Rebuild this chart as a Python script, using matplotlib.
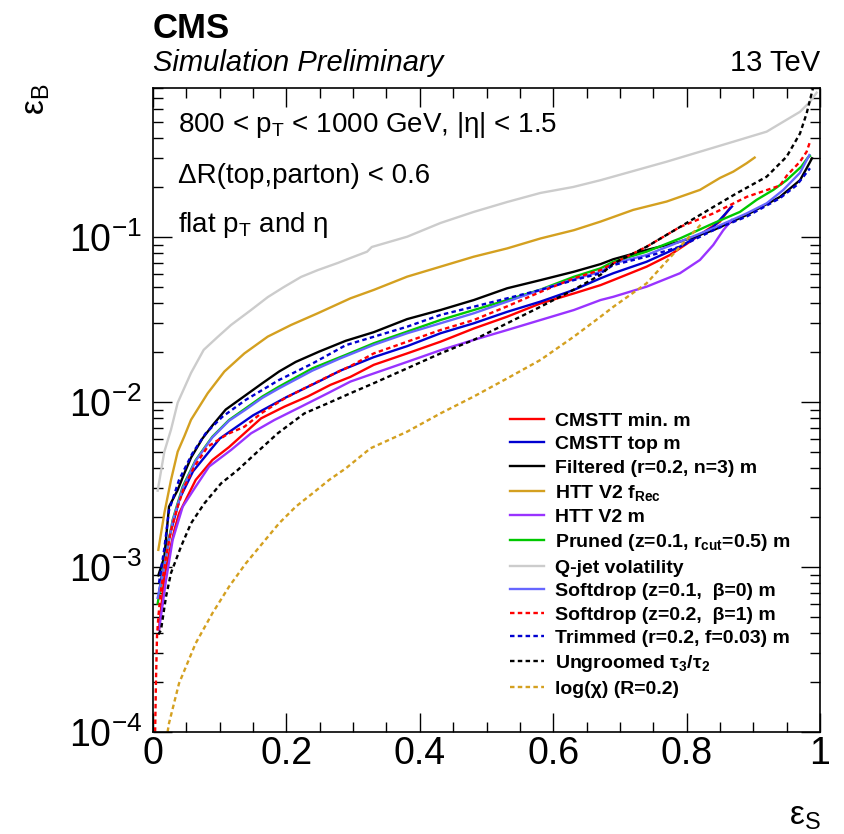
import matplotlib
matplotlib.use("Agg")
import matplotlib.pyplot as plt
from matplotlib.ticker import FixedLocator, FixedFormatter, LogLocator, NullFormatter, MultipleLocator

plt.rcParams["font.family"] = ["Liberation Sans", "DejaVu Sans"]
plt.rcParams["mathtext.default"] = "regular"

# ---- data (signal eff. vs background eff.) ----
cmstt_min_x = [0.009, 0.017, 0.024, 0.032, 0.039, 0.064, 0.089, 0.114, 0.137, 0.162, 0.197, 0.232, 0.266,
               0.296, 0.331, 0.381, 0.431, 0.481, 0.531, 0.581, 0.631, 0.671, 0.690, 0.740, 0.775, 0.805,
               0.830, 0.850, 0.865]
cmstt_min_y = [4.2e-4, 8.7e-4, 1.2e-3, 1.67e-3, 2.11e-3, 3.37e-3, 4.45e-3, 5.33e-3, 6.46e-3, 7.96e-3, 9.37e-3,
               0.0108, 0.0127, 0.0142, 0.0168, 0.0197, 0.0232, 0.0279, 0.0329, 0.0396, 0.0455, 0.0511, 0.0548,
               0.0661, 0.0778, 0.0937, 0.110, 0.124, 0.150]

cmstt_top_x = [0.009, 0.02, 0.04, 0.06, 0.1, 0.15, 0.2, 0.25, 0.281, 0.331, 0.381, 0.431, 0.481, 0.531, 0.581,
               0.631, 0.671, 0.690, 0.740, 0.790, 0.840, 0.868]
cmstt_top_y = [7e-4, 1.3e-3, 2.6e-3, 3.8e-3, 6.0e-3, 8.3e-3, 0.0107, 0.0134, 0.0155, 0.0187, 0.0218, 0.0261,
               0.030, 0.0352, 0.0406, 0.0478, 0.0562, 0.0603, 0.0708, 0.0873, 0.115, 0.153]

filtered_x = [0.008, 0.017, 0.024, 0.037, 0.047, 0.057, 0.074, 0.089, 0.109, 0.139, 0.164, 0.189, 0.214, 0.249,
              0.289, 0.331, 0.381, 0.431, 0.481, 0.531, 0.581, 0.631, 0.671, 0.690, 0.740, 0.790, 0.840, 0.890,
              0.940, 0.970, 0.980, 0.988]
filtered_y = [8.9e-4, 1.15e-3, 2.32e-3, 2.93e-3, 3.7e-3, 4.6e-3, 6.0e-3, 7.2e-3, 9.0e-3, 0.0110, 0.0130, 0.0153,
              0.0175, 0.0202, 0.0235, 0.0265, 0.0318, 0.0361, 0.0415, 0.0489, 0.0548, 0.0616, 0.0685, 0.0733,
              0.0834, 0.0937, 0.110, 0.136, 0.175, 0.221, 0.261, 0.300]

htt_frec_x = [0.008, 0.017, 0.027, 0.037, 0.047, 0.057, 0.082, 0.107, 0.137, 0.172, 0.207, 0.247, 0.296, 0.331,
              0.381, 0.431, 0.481, 0.531, 0.581, 0.631, 0.671, 0.720, 0.770, 0.820, 0.850, 0.870, 0.890, 0.902]
htt_frec_y = [1.27e-3, 2.12e-3, 3.37e-3, 5.0e-3, 6.2e-3, 7.8e-3, 0.0113, 0.0153, 0.0197, 0.0249, 0.0293, 0.0345,
              0.0425, 0.0478, 0.0575, 0.0661, 0.076, 0.0853, 0.098, 0.110, 0.124, 0.146, 0.164, 0.193, 0.228,
              0.249, 0.280, 0.303]

htt_m_x = [0.009, 0.0195, 0.0295, 0.0445, 0.064, 0.084, 0.117, 0.147, 0.182, 0.222, 0.262, 0.296, 0.331, 0.381,
           0.431, 0.481, 0.531, 0.581, 0.631, 0.671, 0.690, 0.740, 0.790, 0.820, 0.840, 0.855, 0.868]
htt_m_y = [4.15e-4, 8.3e-4, 1.46e-3, 2.32e-3, 3.07e-3, 4.06e-3, 5.12e-3, 6.46e-3, 7.78e-3, 9.37e-3, 0.0113,
           0.0133, 0.0149, 0.0175, 0.0206, 0.0238, 0.0273, 0.0314, 0.0361, 0.0415, 0.0434, 0.050, 0.0603,
           0.0726, 0.0895, 0.110, 0.127]

pruned_x = [0.007, 0.0145, 0.0295, 0.0445, 0.064, 0.089, 0.114, 0.139, 0.164, 0.189, 0.239, 0.289, 0.331, 0.381,
            0.431, 0.481, 0.531, 0.581, 0.631, 0.671, 0.690, 0.740, 0.790, 0.840, 0.880, 0.905, 0.930, 0.950,
            0.972, 0.982, 0.985]
pruned_y = [6.0e-4, 9.2e-4, 1.93e-3, 3.07e-3, 4.45e-3, 6.16e-3, 7.78e-3, 9.16e-3, 0.0108, 0.0124, 0.016, 0.0193,
            0.0227, 0.0267, 0.0314, 0.0361, 0.0415, 0.048, 0.0574, 0.0646, 0.0708, 0.0815, 0.098, 0.121, 0.142,
            0.168, 0.193, 0.221, 0.267, 0.304, 0.31]

qjet_x = [0.007, 0.017, 0.027, 0.037, 0.057, 0.076, 0.097, 0.117, 0.147, 0.172, 0.196, 0.222, 0.247, 0.277,
          0.296, 0.321, 0.328, 0.381, 0.431, 0.481, 0.531, 0.581, 0.630, 0.671, 0.770, 0.870, 0.920, 0.970,
          0.985, 0.995]
qjet_y = [2.9e-3, 5.0e-3, 6.8e-3, 9.9e-3, 0.015, 0.0207, 0.0248, 0.0293, 0.0361, 0.0432, 0.0497, 0.0573, 0.063,
          0.0696, 0.0746, 0.0815, 0.087, 0.1004, 0.1216, 0.142, 0.163, 0.185, 0.201, 0.221, 0.286, 0.378, 0.435,
          0.574, 0.66, 0.75]

sd_b0_x = [0.007, 0.0145, 0.0295, 0.0445, 0.064, 0.089, 0.114, 0.139, 0.164, 0.189, 0.239, 0.281, 0.331, 0.381,
           0.431, 0.481, 0.531, 0.581, 0.631, 0.671, 0.690, 0.740, 0.790, 0.840, 0.890, 0.920, 0.945, 0.970,
           0.984]
sd_b0_y = [6.5e-4, 9.0e-4, 1.9e-3, 3.0e-3, 4.4e-3, 6.1e-3, 7.7e-3, 9.0e-3, 0.0106, 0.0121, 0.0155, 0.0184, 0.0222,
           0.0261, 0.030, 0.0345, 0.0406, 0.0478, 0.0555, 0.0616, 0.0692, 0.0778, 0.0937, 0.113, 0.139, 0.160,
           0.193, 0.245, 0.314]

sd_b1_x = [0.003, 0.0045, 0.006, 0.008, 0.012, 0.0195, 0.027, 0.037, 0.047, 0.062, 0.082, 0.112, 0.137, 0.162,
           0.197, 0.232, 0.266, 0.296, 0.331, 0.381, 0.431, 0.481, 0.531, 0.581, 0.631, 0.671, 0.690, 0.740,
           0.790, 0.840, 0.890, 0.940, 0.950, 0.970, 0.980, 0.985]
sd_b1_y = [9.0e-5, 2.07e-4, 3.79e-4, 5.0e-4, 7.26e-4, 1.15e-3, 1.67e-3, 2.32e-3, 3.07e-3, 4.06e-3, 5.36e-3,
           6.4e-3, 7.08e-3, 8.53e-3, 0.0105, 0.0124, 0.0145, 0.0165, 0.0197, 0.0232, 0.0273, 0.0314, 0.038,
           0.0465, 0.0562, 0.0631, 0.0692, 0.0873, 0.115, 0.139, 0.175, 0.205, 0.235, 0.286, 0.329, 0.378]

trimmed_x = [0.009, 0.017, 0.024, 0.039, 0.059, 0.079, 0.104, 0.139, 0.189, 0.239, 0.289, 0.381, 0.431, 0.481,
             0.531, 0.581, 0.631, 0.671, 0.690, 0.740, 0.790, 0.840, 0.890, 0.940, 0.965, 0.985]
trimmed_y = [8.0e-4, 1.3e-3, 2.2e-3, 3.37e-3, 4.88e-3, 6.46e-3, 8.14e-3, 0.0103, 0.0136, 0.0171, 0.0221, 0.0286,
             0.0337, 0.0378, 0.0425, 0.0478, 0.0548, 0.0603, 0.0676, 0.076, 0.0873, 0.110, 0.133, 0.172, 0.206,
             0.261]

ungroomed_x = [0.008, 0.012, 0.0195, 0.027, 0.042, 0.057, 0.077, 0.102, 0.127, 0.152, 0.187, 0.227, 0.262,
               0.296, 0.331, 0.381, 0.431, 0.481, 0.531, 0.581, 0.631, 0.671, 0.690, 0.740, 0.790, 0.840, 0.875,
               0.920, 0.950, 0.970, 0.980, 0.990, 0.996]
ungroomed_y = [3.9e-4, 4.15e-4, 6.6e-4, 9.2e-4, 1.33e-3, 1.84e-3, 2.43e-3, 3.21e-3, 3.87e-3, 4.8e-3, 6.46e-3,
               8.53e-3, 9.82e-3, 0.0113, 0.013, 0.016, 0.0197, 0.0238, 0.030, 0.0378, 0.048, 0.059, 0.069,
               0.0873, 0.115, 0.152, 0.184, 0.232, 0.307, 0.424, 0.562, 0.815, 0.95]

logchi_x = [0.020, 0.024, 0.039, 0.064, 0.089, 0.114, 0.139, 0.164, 0.189, 0.214, 0.239, 0.264, 0.289, 0.326,
            0.381, 0.431, 0.481, 0.531, 0.581, 0.631, 0.671, 0.690, 0.740, 0.790, 0.823]
logchi_y = [9.0e-5, 1.13e-4, 1.97e-4, 3.45e-4, 5.24e-4, 7.6e-4, 1.05e-3, 1.39e-3, 1.84e-3, 2.32e-3, 2.79e-3,
            3.37e-3, 3.96e-3, 5.24e-3, 6.61e-3, 8.53e-3, 0.0108, 0.0139, 0.018, 0.0249, 0.0329, 0.0377, 0.0524,
            0.0873, 0.121]

labels = ["CMSTT min. m", "CMSTT top m", "Filtered (r=0.2, n=3) m", "HTT V2 $f_{Rec}$", "HTT V2 m",
          "Pruned (z=0.1, $r_{cut}$=0.5) m", "Q-jet volatility", "Softdrop (z=0.1,  \u03b2=0) m",
          "Softdrop (z=0.2,  \u03b2=1) m", "Trimmed (r=0.2, f=0.03) m", "Ungroomed $\u03c4_{3}/\u03c4_{2}$",
          "log(\u03c7) (R=0.2)"]

series = [
    (cmstt_min_x, cmstt_min_y, "#ff0000", "-"),
    (cmstt_top_x, cmstt_top_y, "#0000d0", "-"),
    (filtered_x, filtered_y, "#000000", "-"),
    (htt_frec_x, htt_frec_y, "#d4a020", "-"),
    (htt_m_x, htt_m_y, "#9933ff", "-"),
    (pruned_x, pruned_y, "#00c800", "-"),
    (qjet_x, qjet_y, "#cccccc", "-"),
    (sd_b0_x, sd_b0_y, "#6666ff", "-"),
    (sd_b1_x, sd_b1_y, "#ff0000", "--"),
    (trimmed_x, trimmed_y, "#0000d0", "--"),
    (ungroomed_x, ungroomed_y, "#000000", "--"),
    (logchi_x, logchi_y, "#d4a020", "--"),
]

fig = plt.figure(figsize=(8.44, 8.34), dpi=100)
ax = fig.add_axes([153 / 844, 1 - 732 / 834, 667 / 844, 644 / 834])

handles = []
for (x, y, color, ls), lab in zip(series, labels):
    if ls == "--":
        line, = ax.plot(x, y, color=color, lw=1.7, ls="--", dashes=(1.9, 1.4), label=lab)
    else:
        line, = ax.plot(x, y, color=color, lw=1.7, label=lab)
    handles.append(line)

ax.set_xlim(0, 1)
ax.set_yscale("log")
ax.set_ylim(1e-4, 0.8)

ax.xaxis.set_major_locator(FixedLocator([0, 0.2, 0.4, 0.6, 0.8, 1.0]))
ax.xaxis.set_major_formatter(FixedFormatter(["0", "0.2", "0.4", "0.6", "0.8", "1"]))
ax.xaxis.set_minor_locator(MultipleLocator(0.05))
ax.yaxis.set_major_locator(LogLocator(base=10))
ax.yaxis.set_minor_locator(LogLocator(base=10, subs=range(2, 10)))
ax.yaxis.set_minor_formatter(NullFormatter())

ax.tick_params(which="both", direction="in", top=True, right=True, width=1.0)
ax.tick_params(which="major", length=14)
ax.tick_params(which="minor", length=7)
ax.tick_params(axis="x", labelsize=27, pad=3)
ax.tick_params(axis="y", labelsize=27, pad=8)
for sp in ax.spines.values():
    sp.set_linewidth(1.2)

ax.legend(handles, labels, loc="upper left", bbox_to_anchor=((510 - 153) / 667, (732 - 412) / 644),
          frameon=False, prop={"size": 14, "weight": "bold"}, handlelength=1.75, handletextpad=0.55,
          labelspacing=0.305, borderpad=0, borderaxespad=0)

# labels and CMS header
fig.text(153 / 844, 1 - 38 / 834, "CMS", fontsize=25, fontweight="bold", va="baseline")
fig.text(153 / 844, 1 - 71 / 834, "Simulation Preliminary", fontsize=21, style="italic", va="baseline")
fig.text(820 / 844, 1 - 71 / 834, "13 TeV", fontsize=21, ha="right", va="baseline")

fig.text(178 / 844, 1 - 132 / 834, "800 < $p_{T}$ < 1000 GeV, |\u03b7| < 1.5", fontsize=20, va="baseline")
fig.text(178 / 844, 1 - 183 / 834, "\u0394R(top,parton) < 0.6", fontsize=20, va="baseline")
fig.text(178 / 844, 1 - 232 / 834, "flat $p_{T}$ and \u03b7", fontsize=20, va="baseline")

fig.text(36 / 844, 1 - 84 / 834, "$\u03b5_{B}$", fontsize=24, rotation=90, ha="center", va="top")
fig.text(821 / 844, 1 - 832 / 834, "$\u03b5_{S}$", fontsize=24, ha="right", va="bottom")

fig.savefig("out.png", dpi=100)
